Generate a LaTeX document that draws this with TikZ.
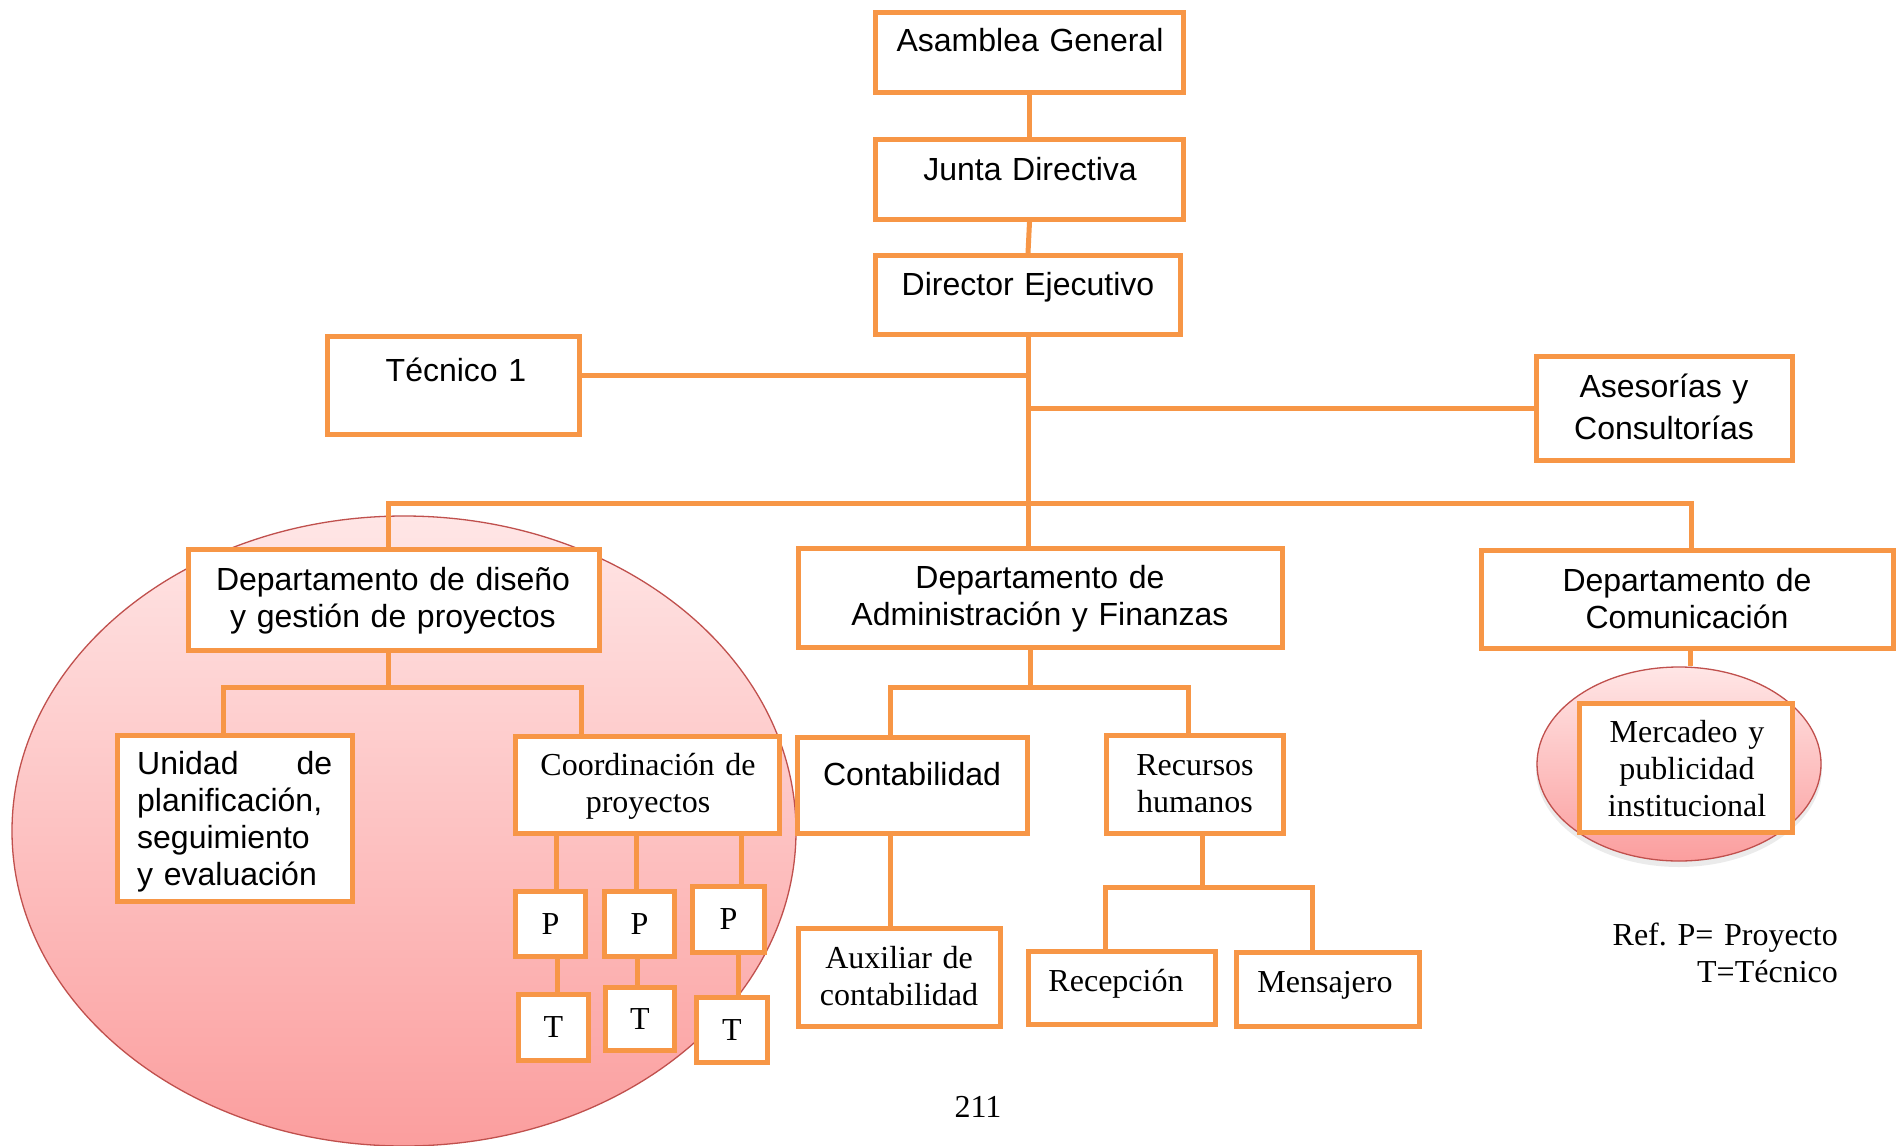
\documentclass[tikz,border=0pt]{standalone}
\usepackage{fontspec}
\setmainfont{Liberation Serif}
\newfontfamily\arialfont{Liberation Sans}
\definecolor{boxorange}{HTML}{F79646}
\definecolor{ellline}{HTML}{C0504D}
\definecolor{elltop}{HTML}{FFE6E6}
\definecolor{ellbot}{HTML}{FB9E9E}
% \obox{name}{x1}{y1}{x2}{y2}{text}: framed box given by its outer corners
\newcommand\obox[6]{%
  \node[orgbox, minimum width={#4-#2-5}, minimum height={#5-#3-5}]
    (#1) at ({(#2+#4)/2},{(#3+#5)/2}) {#6};}
\begin{document}
\begin{tikzpicture}[x=1pt,y=-1pt,
  orgbox/.style={draw=boxorange, line width=5pt, fill=white, rectangle, inner sep=0pt,
    font=\fontsize{32}{37}\selectfont},
  link/.style={draw=boxorange, line width=5pt},
  unit/.style={draw=ellline, line width=1.3pt, top color=elltop, bottom color=ellbot},
  sanstxt/.style={font=\arialfont\fontsize{32}{37}\selectfont, anchor=base, inner sep=0pt,
    align=center, text width=460pt},
  seriftxt/.style={font=\fontsize{32}{37}\selectfont, anchor=base, inner sep=0pt,
    align=center, text width=460pt},
]
\useasboundingbox[fill=white] (0,0) rectangle (1902,1145);

% shaded units behind the boxes
\path[unit] (404,831) ellipse [x radius=392, y radius=315];
\fill[black, opacity=0.08] (1679,769) ellipse [x radius=143, y radius=98];
\path[unit] (1679,764) ellipse [x radius=142, y radius=97];

% boxes
\obox{asam}{873}{10}{1186}{95}{}
\obox{junta}{873}{137}{1186}{222}{}
\obox{direc}{873}{253}{1183}{337}{}
\obox{tec}{325}{334}{582}{437}{}
\obox{ases}{1534}{354}{1795}{463}{}
\obox{dis}{186}{547}{602}{653}{}
\obox{adm}{796}{546}{1285}{650}{}
\obox{com}{1479}{548}{1896}{651}{}
\obox{uni}{115}{733}{355}{904}{}
\obox{coo}{513}{734}{782}{836}{}
\obox{pa}{513}{889}{588}{959}{P}
\obox{pb}{602}{889}{677}{959}{P}
\obox{pc}{690}{884}{767}{955}{P}
\obox{ta}{516}{992}{591}{1063}{T}
\obox{tb}{603}{985}{677}{1053}{T}
\obox{tc}{694}{995}{770}{1065}{T}
\obox{cont}{795}{735}{1030}{836}{}
\obox{rrhh}{1104}{733}{1286}{836}{}
\obox{aux}{796}{926}{1003}{1029}{}
\obox{rec}{1026}{949}{1218}{1027}{}
\obox{men}{1234}{950}{1422}{1029}{}
\obox{mer}{1577}{701}{1795}{835}{}

% junction points
\coordinate (bl) at (388,503);
\coordinate (br) at (1691,503);
\coordinate (d1) at (223,687);
\coordinate (d2) at (581,687);
\coordinate (a1) at (890,687);
\coordinate (a2) at (1188,687);
\coordinate (r1) at (1105,887);
\coordinate (r2) at (1312,887);
\coordinate (mtop) at (1690,666);

% connectors
\draw[link] (asam.south) -- (junta.north);
\draw[link] (junta.south) -- (direc.north);
\draw[link] (direc.south) -- (direc.south |- adm.north);
\draw[link] ([yshift=10pt]tec.east) -- ([yshift=10pt]tec.east -| direc.south);
\draw[link] (ases.west) -- (ases.west -| direc.south);
\draw[link] (dis.north -| bl) -- (bl) -- (br) -- (com.north -| br);

\draw[link] (dis.south -| bl) -- (bl |- d1);
\draw[link] (uni.north -| d1) -- (d1) -- (d2) -- (coo.north -| d2);
\draw[link] ([xshift=6pt]pa.north) -- ([xshift=6pt]pa.north |- coo.south);
\draw[link] ([xshift=-3pt]pb.north) -- ([xshift=-3pt]pb.north |- coo.south);
\draw[link] ([xshift=13pt]pc.north) -- ([xshift=13pt]pc.north |- coo.south);
\draw[link] ([xshift=7pt]pa.south) -- ([xshift=7pt]pa.south |- ta.north);
\draw[link] ([xshift=-2pt]pb.south) -- ([xshift=-2pt]pb.south |- tb.north);
\draw[link] ([xshift=10pt]pc.south) -- ([xshift=10pt]pc.south |- tc.north);

\draw[link] ([xshift=-10pt]adm.south) -- ([xshift=-10pt]adm.south |- a1);
\draw[link] (cont.north -| a1) -- (a1) -- (a2) -- (rrhh.north -| a2);
\draw[link] (cont.south -| a1) -- (aux.north -| a1);
\draw[link] ([xshift=7pt]rrhh.south) -- ([xshift=7pt]rrhh.south |- r1);
\draw[link] (rec.north -| r1) -- (r1) -- (r2) -- (men.north -| r2);
\draw[link] (com.south -| mtop) -- (mtop);

% labels
\node[sanstxt] (tasam) at (1030,52) {Asamblea General};
\node[sanstxt] (tjunta) at (1030,180) {Junta Directiva};
\node[sanstxt] (tdirec) at (1028,295) {Director Ejecutivo};
\node[sanstxt] (ttec) at (456,381) {Técnico 1};
\node[sanstxt] (tases) at (1664,397) {Asesorías y\\[5pt]Consultorías};
\node[sanstxt] (tdis) at (393,590) {Departamento de diseño\\y gestión de proyectos};
\node[sanstxt] (tadm) at (1040,588) {Departamento de\\Administración y Finanzas};
\node[sanstxt] (tcom) at (1687,591) {Departamento de\\Comunicación};
\node[sanstxt] (tcont) at (912,785) {Contabilidad};
\node[sanstxt, align=left, text width=195pt, anchor=base west] (tuni) at (137,774)
  {Unidad\hfill de\\planificación,\\seguimiento\\y evaluación};
\node[seriftxt] (tcoo) at (648,775) {Coordinación de\\proyectos};
\node[seriftxt] (trrhh) at (1195,775) {Recursos\\humanos};
\node[seriftxt] (taux) at (899,968) {Auxiliar de\\contabilidad};
\node[seriftxt] (trec) at (1116,991) {Recepción};
\node[seriftxt] (tmen) at (1325,992) {Mensajero};
\node[seriftxt] (tmer) at (1687,742) {Mercadeo y\\publicidad\\institucional};
\node[seriftxt, align=right, text width=300pt, anchor=base east] (tref) at (1838,945)
  {Ref.\ P= Proyecto\\T=Técnico};
\node[seriftxt] (tpage) at (978,1117) {211};
\end{tikzpicture}
\end{document}
